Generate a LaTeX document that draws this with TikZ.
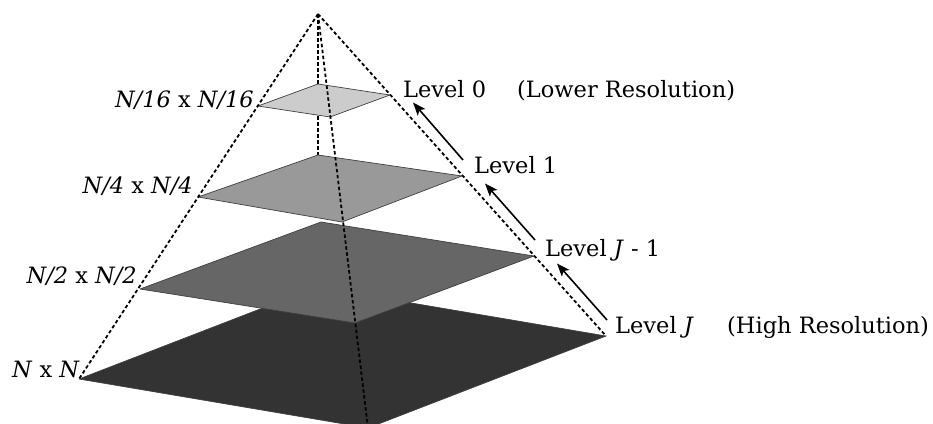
\documentclass[tikz,border=0pt]{standalone}
\usepackage{fontspec}
\setmainfont{DejaVu Serif}
\usetikzlibrary{calc,arrows.meta}
\definecolor{lvlA}{HTML}{CCCCCC}
\definecolor{lvlB}{HTML}{999999}
\definecolor{lvlC}{HTML}{666666}
\definecolor{lvlD}{HTML}{333333}
\begin{document}
\begin{tikzpicture}[x=1pt,y=-1pt,
  edge/.style={line width=1.8pt, dash pattern=on 3.5pt off 2.5pt},
  layer/.style={draw=black!75, line width=0.7pt, line join=round},
  uparrow/.style={line width=1.6pt, -{Stealth[length=13pt,width=10pt,inset=3pt]}},
  lbl/.style={font=\fontsize{22.5}{27}\selectfont, inner sep=0pt}]
\useasboundingbox (0,0) rectangle (933,423);
\clip (0,0) rectangle (933,423);

% apex and base corners of the pyramid
\coordinate (A) at (318,14);
\coordinate (L) at (79,379);
\coordinate (R) at (606,336);
\coordinate (F) at (368,428);

% corners of the four levels (left, front, right, back)
\coordinate (L0) at (258,106); \coordinate (F0) at (330,117);
\coordinate (R0) at (390,95);  \coordinate (B0) at (318,84);
\coordinate (L1) at (198,197); \coordinate (F1) at (342,222);
\coordinate (R1) at (462,176); \coordinate (B1) at (318,155);
\coordinate (L2) at (140,289); \coordinate (F2) at (355,323);
\coordinate (R2) at (534,256); \coordinate (B2) at (321,222);
\coordinate (B3) at (317,287);

% hidden back edge, covered by the levels
\draw[edge] (A) -- (B1);

% levels, from the base upwards
\filldraw[layer, fill=lvlD] (L) -- (F) -- (R) -- (B3) -- cycle;
\filldraw[layer, fill=lvlC] (L2) -- (F2) -- (R2) -- (B2) -- cycle;
\filldraw[layer, fill=lvlB] (L1) -- (F1) -- (R1) -- (B1) -- cycle;
\filldraw[layer, fill=lvlA] (L0) -- (F0) -- (R0) -- (B0) -- cycle;

% visible edges of the pyramid
\draw[edge] (A) -- (L);
\draw[edge] (A) -- (R);
\draw[edge] (A) -- (F);

% size labels
\node[lbl, anchor=base east] (s0) at ($(L0)+(-4,1)$) {\textit{N/16} x \textit{N/16}};
\node[lbl, anchor=base east] (s1) at ($(L1)+(-5,-4)$) {\textit{N/4} x \textit{N/4}};
\node[lbl, anchor=base east] (s2) at ($(L2)+(-3,-6)$) {\textit{N/2} x \textit{N/2}};
\node[lbl, anchor=base east] (s3) at ($(L)+(1,-2)$) {\textit{N} x \textit{N}};

% level labels
\node[lbl, anchor=base west] (v0) at ($(R0)+(13,2)$) {Level 0};
\node[lbl, anchor=base west] (v1) at ($(R1)+(12,-3)$) {Level 1};
\node[lbl, anchor=base west] (v2) at ($(R2)+(11,0)$) {Level \textit{J} - 1};
\node[lbl, anchor=base west] (v3) at ($(R)+(9,-3)$) {Level \textit{J}};
\node[lbl, anchor=base west] (lo) at ($(R0)+(127,2)$) {(Lower Resolution)};
\node[lbl, anchor=base west] (hi) at ($(R)+(121,-3)$) {(High Resolution)};

% arrows from finer to coarser level
\draw[uparrow] ($(R)+(1,-16)$) -- ($(R2)+(23,7.5)$);
\draw[uparrow] ($(R2)+(1,-16)$) -- ($(R1)+(23,7.5)$);
\draw[uparrow] ($(R1)+(1,-16)$) -- ($(R0)+(23,7.5)$);
\end{tikzpicture}
\end{document}
